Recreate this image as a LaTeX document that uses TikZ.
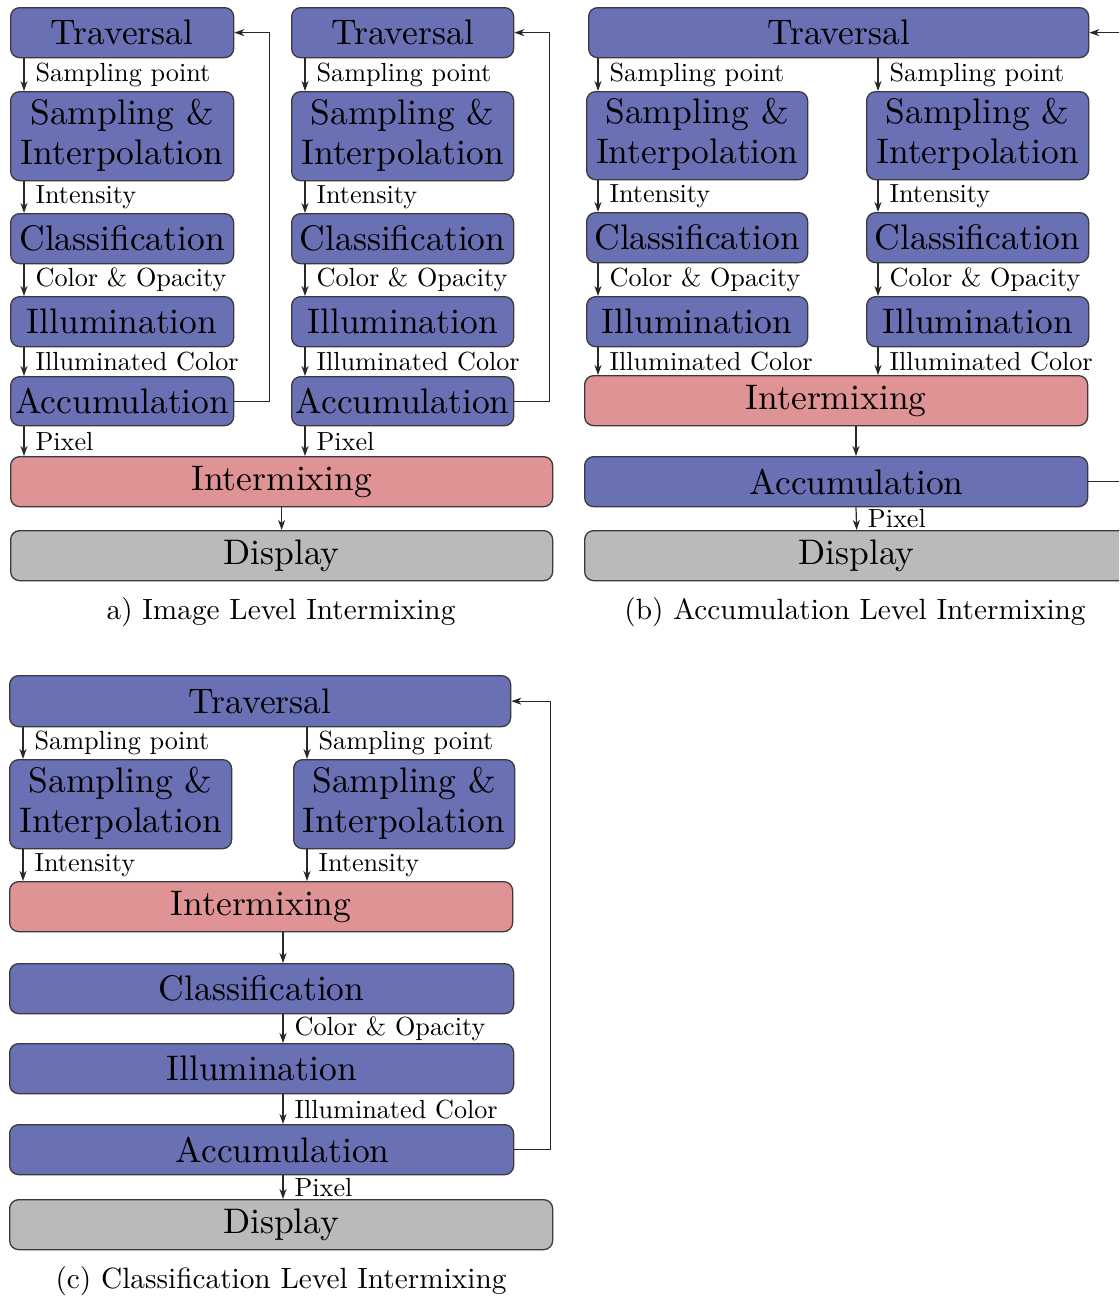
\documentclass[tikz,border=0pt]{standalone}
\usepackage{graphicx}
\usetikzlibrary{arrows.meta}
\definecolor{stageblue}{RGB}{106,112,180}
\definecolor{mixred}{RGB}{223,147,148}
\definecolor{outgray}{RGB}{186,186,186}
\definecolor{bordc}{RGB}{58,58,62}
\definecolor{linec}{RGB}{40,40,40}
% text is set at the 10pt design size and enlarged, which keeps the strokes sturdy
\newcommand\stg[1]{\scalebox{3.55}{\fontsize{10}{11.3}\selectfont #1}}
\newcommand\twoline[2]{\stg{\begin{tabular}{@{}c@{}}#1\\#2\end{tabular}}}
\newcommand\edg[1]{\scalebox{2.62}{\fontsize{10}{12}\selectfont #1}}
\newcommand\sublbl[1]{\scalebox{2.93}{\fontsize{10}{12}\selectfont #1}}
\tikzset{
  box/.style={draw=bordc, line width=1.3pt, rounded corners=9pt, inner sep=0pt,
    anchor=north west, align=center},
  bluebox/.style={box, fill=stageblue},
  redbox/.style={box, fill=mixred},
  graybox/.style={box, fill=outgray},
  arr/.style={draw=linec, line width=1.2pt, -{Stealth[length=10pt,width=7pt,inset=3pt]}},
  lbl/.style={anchor=west, inner sep=0pt, xshift=11pt},
  subcap/.style={inner sep=0pt},
}
\begin{document}
\begin{tikzpicture}[x=1pt,y=-1pt]
\clip (0,0) rectangle (1119,1301);
\fill[white] (0,0) rectangle (1119,1301);

% ---------- (a) image level intermixing ----------
\foreach \c/\xl/\w in {1/10/223, 2/291/222} {
  \node[bluebox, minimum width=\w pt, minimum height=50pt] (at\c) at (\xl,7) {\stg{Traversal}};
  \node[bluebox, minimum width=\w pt, minimum height=89pt] (as\c) at (\xl,91) {\twoline{Sampling \&}{Interpolation}};
  \node[bluebox, minimum width=\w pt, minimum height=50pt] (ac\c) at (\xl,213) {\stg{Classification}};
  \node[bluebox, minimum width=\w pt, minimum height=50pt] (ai\c) at (\xl,296) {\stg{Illumination}};
  \node[bluebox, minimum width=\w pt, minimum height=49pt] (aa\c) at (\xl,376) {\stg{Accumulation}};
  \coordinate (ax\c) at (\xl+14,0);
}
\node[redbox, minimum width=542pt, minimum height=50pt] (amix) at (10,456) {\stg{Intermixing}};
\node[graybox, minimum width=542pt, minimum height=50pt] (adisp) at (10,530) {\stg{Display}};

\foreach \c in {1,2} {
  \draw[arr] (ax\c |- at\c.south) -- node[lbl] {\edg{Sampling point}} (ax\c |- as\c.north);
  \draw[arr] (ax\c |- as\c.south) -- node[lbl] {\edg{Intensity}} (ax\c |- ac\c.north);
  \draw[arr] (ax\c |- ac\c.south) -- node[lbl] {\edg{Color \& Opacity}} (ax\c |- ai\c.north);
  \draw[arr] (ax\c |- ai\c.south) -- node[lbl] {\edg{Illuminated Color}} (ax\c |- aa\c.north);
  \draw[arr] (ax\c |- aa\c.south) -- node[lbl] {\edg{Pixel}} (ax\c |- amix.north);
  \draw[arr] (aa\c.east) -- ++(35,0) |- (at\c.east);
}
\draw[arr] (amix.south) -- (adisp.north);
\node[subcap] (capa) at (281,612) {\sublbl{a) Image Level Intermixing}};

% ---------- (b) accumulation level intermixing ----------
\node[bluebox, minimum width=500pt, minimum height=50pt] (bt) at (588,7) {\stg{Traversal}};
\foreach \c/\xl/\w in {1/586/221, 2/866/222} {
  \node[bluebox, minimum width=\w pt, minimum height=88pt] (bs\c) at (\xl,91) {\twoline{Sampling \&}{Interpolation}};
  \node[bluebox, minimum width=\w pt, minimum height=50pt] (bc\c) at (\xl,212) {\stg{Classification}};
  \node[bluebox, minimum width=\w pt, minimum height=50pt] (bi\c) at (\xl,296) {\stg{Illumination}};
  \coordinate (bx\c) at (\xl+12,0);
}
\node[redbox, minimum width=503pt, minimum height=50pt] (bmix) at (584,375) {\stg{Intermixing}};
\node[bluebox, minimum width=503pt, minimum height=50pt] (bacc) at (584,456) {\hspace{41pt}\stg{Accumulation}};
\node[graybox, minimum width=544pt, minimum height=50pt] (bdisp) at (584,530) {\stg{Display}};
\coordinate (bxm) at (856,0);

\foreach \c in {1,2} {
  \draw[arr] (bx\c |- bt.south) -- node[lbl] {\edg{Sampling point}} (bx\c |- bs\c.north);
  \draw[arr] (bx\c |- bs\c.south) -- node[lbl] {\edg{Intensity}} (bx\c |- bc\c.north);
  \draw[arr] (bx\c |- bc\c.south) -- node[lbl] {\edg{Color \& Opacity}} (bx\c |- bi\c.north);
  \draw[arr] (bx\c |- bi\c.south) -- node[lbl] {\edg{Illuminated Color}} (bx\c |- bmix.north);
}
\draw[arr] (bxm |- bmix.south) -- (bxm |- bacc.north);
\draw[arr] (bxm |- bacc.south) -- node[lbl] {\edg{Pixel}} (bdisp.north);
\draw[arr] (bacc.east) -- ++(40,0) |- (bt.east);
\node[subcap] (capb) at (855,612) {\sublbl{(b) Accumulation Level Intermixing}};

% ---------- (c) classification level intermixing ----------
\node[bluebox, minimum width=501pt, minimum height=51pt] (ct) at (9,675) {\stg{Traversal}};
\foreach \c/\xl/\w in {1/9/222, 2/293/221} {
  \node[bluebox, minimum width=\w pt, minimum height=89pt] (cs\c) at (\xl,759) {\twoline{Sampling \&}{Interpolation}};
  \coordinate (cx\c) at (\xl+14,0);
}
\node[redbox, minimum width=503pt, minimum height=50pt] (cmix) at (9,881) {\stg{Intermixing}};
\node[bluebox, minimum width=504pt, minimum height=50pt] (ccl) at (9,963) {\stg{Classification}};
\node[bluebox, minimum width=504pt, minimum height=50pt] (cil) at (9,1043) {\stg{Illumination}};
\node[bluebox, minimum width=504pt, minimum height=50pt] (cacc) at (9,1124) {\hspace{42pt}\stg{Accumulation}};
\node[graybox, minimum width=543pt, minimum height=50pt] (cdisp) at (9,1199) {\stg{Display}};
\coordinate (cxm) at (283,0);

\foreach \c in {1,2} {
  \draw[arr] (cx\c |- ct.south) -- node[lbl] {\edg{Sampling point}} (cx\c |- cs\c.north);
  \draw[arr] (cx\c |- cs\c.south) -- node[lbl] {\edg{Intensity}} (cx\c |- cmix.north);
}
\draw[arr] (cxm |- cmix.south) -- (cxm |- ccl.north);
\draw[arr] (cxm |- ccl.south) -- node[lbl] {\edg{Color \& Opacity}} (cxm |- cil.north);
\draw[arr] (cxm |- cil.south) -- node[lbl] {\edg{Illuminated Color}} (cxm |- cacc.north);
\draw[arr] (cxm |- cacc.south) -- node[lbl] {\edg{Pixel}} (cxm |- cdisp.north);
\draw[arr] (cacc.east) -- ++(36,0) |- (ct.east);
\node[subcap] (capc) at (281,1281) {\sublbl{(c) Classification Level Intermixing}};
\end{tikzpicture}
\end{document}
